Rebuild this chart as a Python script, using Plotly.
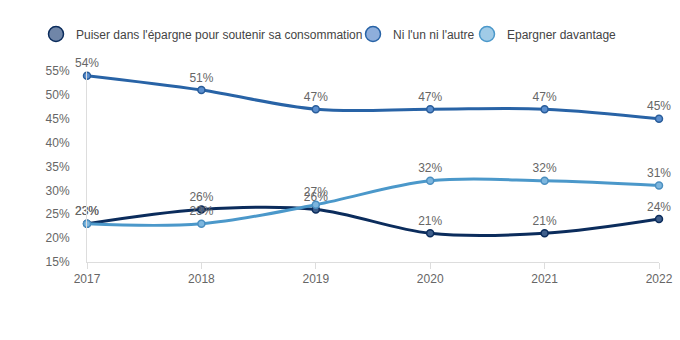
import plotly.graph_objects as go

years = ["2017", "2018", "2019", "2020", "2021", "2022"]
series_names = ["Puiser dans l'épargne pour soutenir sa consommation", "Ni l'un ni l'autre", "Epargner davantage"]
puiser = [23, 26, 26, 21, 21, 24]
ni = [54, 51, 47, 47, 47, 45]
epargner = [23, 23, 27, 32, 32, 31]
y_ticks = [15, 20, 25, 30, 35, 40, 45, 50, 55]

line_colors = ["#0b2c5c", "#2863a6", "#4b98ca"]
marker_fill = ["#3f5f8c", "#5b8fcf", "#7db6de"]
marker_border = ["#0b2c5c", "#2a5d9a", "#4b8fc0"]
legend_fill = ["#7086a8", "#8eaedb", "#a0cbe7"]
legend_ids = ["legend", "legend2", "legend3"]
legend_x_px = [36, 353, 459]

fig = go.Figure()
for i, (name, vals) in enumerate(zip(series_names, [puiser, ni, epargner])):
    fig.add_trace(go.Scatter(
        x=years, y=vals, mode="lines+markers+text",
        line=dict(color=line_colors[i], width=3, shape="spline", smoothing=1),
        marker=dict(size=7, color=marker_fill[i], line=dict(color=marker_border[i], width=1.5)),
        text=[f"{v}%" for v in vals], textposition="top center",
        textfont=dict(size=12, color="#666666"),
        showlegend=False, cliponaxis=False, hoverinfo="skip",
    ))
for i, name in enumerate(series_names):
    fig.add_trace(go.Scatter(
        x=[None], y=[None], mode="markers", name=name, legend=legend_ids[i],
        marker=dict(size=15, color=legend_fill[i], line=dict(color=line_colors[i], width=1.5)),
        showlegend=True,
    ))

legend_common = dict(orientation="h", xanchor="left", xref="container",
                     yref="container", y=1 - 34 / 340, yanchor="middle",
                     itemsizing="trace", font=dict(size=12, color="#444444"),
                     bgcolor="rgba(0,0,0,0)", borderwidth=0)

fig.update_layout(
    width=680, height=340,
    margin=dict(l=87, r=21, t=71, b=78, autoexpand=False),
    paper_bgcolor="white", plot_bgcolor="white",
    font=dict(family="Liberation Sans, Arial, sans-serif", size=12, color="#666666"),
    legend=dict(legend_common, x=legend_x_px[0] / 680),
    legend2=dict(legend_common, x=legend_x_px[1] / 680),
    legend3=dict(legend_common, x=legend_x_px[2] / 680),
    xaxis=dict(showgrid=False, showline=True, linecolor="#dddddd", linewidth=1,
               ticks="outside", ticklen=6, tickcolor="#dddddd",
               tickfont=dict(size=12, color="#666666"), range=[0, 5], fixedrange=True,
               type="category"),
    yaxis=dict(showgrid=False, showline=True, linecolor="#dddddd", linewidth=1,
               range=[15, 55], tickvals=y_ticks, ticktext=[f"{v}%" for v in y_ticks],
               tickfont=dict(size=12, color="#666666"), zeroline=False, ticks="",
               ticklabelstandoff=14),
)
fig.update_layout(legend3=dict(xanchor="right", x=622 / 680))

fig.write_html("out.html")
